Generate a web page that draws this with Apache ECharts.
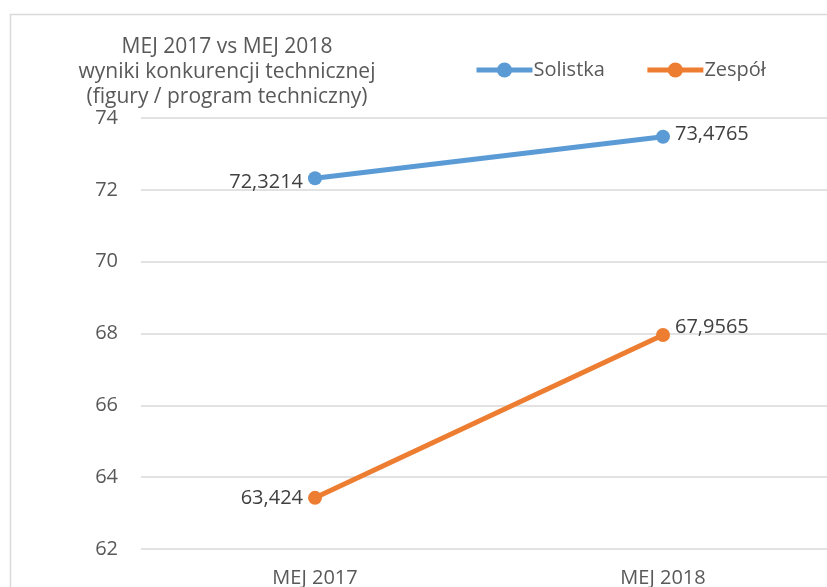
<!DOCTYPE html>
<html>
<head>
<meta charset="utf-8">
<script src="https://cdn.jsdelivr.net/npm/echarts@6/dist/echarts.min.js"></script>
<style>
  html, body { margin: 0; padding: 0; background: #fff; }
  #chart { width: 827px; height: 587px; }
</style>
</head>
<body>
<div id="chart"></div>
<script>
const categories = ['MEJ 2017', 'MEJ 2018'];
const solistka = [72.3214, 73.4765];
const zespol = [63.424, 67.9565];
const titleLines = ['MEJ 2017 vs MEJ 2018', 'wyniki konkurencji technicznej', '(figury / program techniczny)'];

const fnt = '"Open Sans", "Noto Sans", sans-serif';

function fmt(p) {
    return String(p.value).replace('.', ',');
}

const chart = echarts.init(document.getElementById('chart'));
chart.setOption({
    animation: false,
    textStyle: { fontFamily: fnt },
    graphic: [{
        type: 'rect',
        left: 8, top: 12,
        shape: { width: 900, height: 700 },
        style: { fill: 'none', stroke: '#d9d9d9', lineWidth: 1.5 },
        silent: true
    }],
    title: {
        text: titleLines.join('\n'),
        left: 222,
        top: 30,
        textAlign: 'center',
        textStyle: {
            fontFamily: fnt,
            fontSize: 21,
            fontWeight: 'normal',
            color: '#595959',
            lineHeight: 25
        }
    },
    legend: {
        left: 469,
        top: 55,
        itemWidth: 56,
        itemHeight: 19,
        itemGap: 40,
        lineStyle: { width: 5 },
        textStyle: { fontFamily: fnt, fontSize: 20, color: '#595959', padding: [0, 0, 0, -4] },
        data: ['Solistka', 'Zespół']
    },
    grid: {
        left: 141,
        top: 118,
        width: 696,
        height: 431,
        outerBoundsMode: 'none'
    },
    xAxis: {
        type: 'category',
        data: categories,
        axisLine: { show: false },
        axisTick: { show: false },
        axisLabel: { color: '#595959', fontSize: 20, margin: 19 }
    },
    yAxis: {
        type: 'value',
        min: 62,
        max: 74,
        interval: 2,
        axisLine: { show: false },
        axisTick: { show: false },
        axisLabel: { color: '#595959', fontSize: 20, margin: 23 },
        splitLine: { lineStyle: { color: '#d9d9d9', width: 1.5 } }
    },
    series: [{
        name: 'Solistka',
        type: 'line',
        symbol: 'circle',
        symbolSize: 14,
        lineStyle: { color: '#5b9bd5', width: 5 },
        itemStyle: { color: '#5b9bd5' },
        label: {
            show: true,
            formatter: fmt,
            fontSize: 20,
            color: '#404040',
            distance: 5
        },
        data: [
            { value: solistka[0], label: { position: 'left', offset: [0, 4] } },
            { value: solistka[1], label: { position: 'right', offset: [0, -3] } }
        ]
    }, {
        name: 'Zespół',
        type: 'line',
        symbol: 'circle',
        symbolSize: 14,
        lineStyle: { color: '#ed7d31', width: 5 },
        itemStyle: { color: '#ed7d31' },
        label: {
            show: true,
            formatter: fmt,
            fontSize: 20,
            color: '#404040',
            distance: 5
        },
        data: [
            { value: zespol[0], label: { position: 'left', offset: [0, 0] } },
            { value: zespol[1], label: { position: 'right', offset: [0, -8] } }
        ]
    }]
});
</script>
</body>
</html>
